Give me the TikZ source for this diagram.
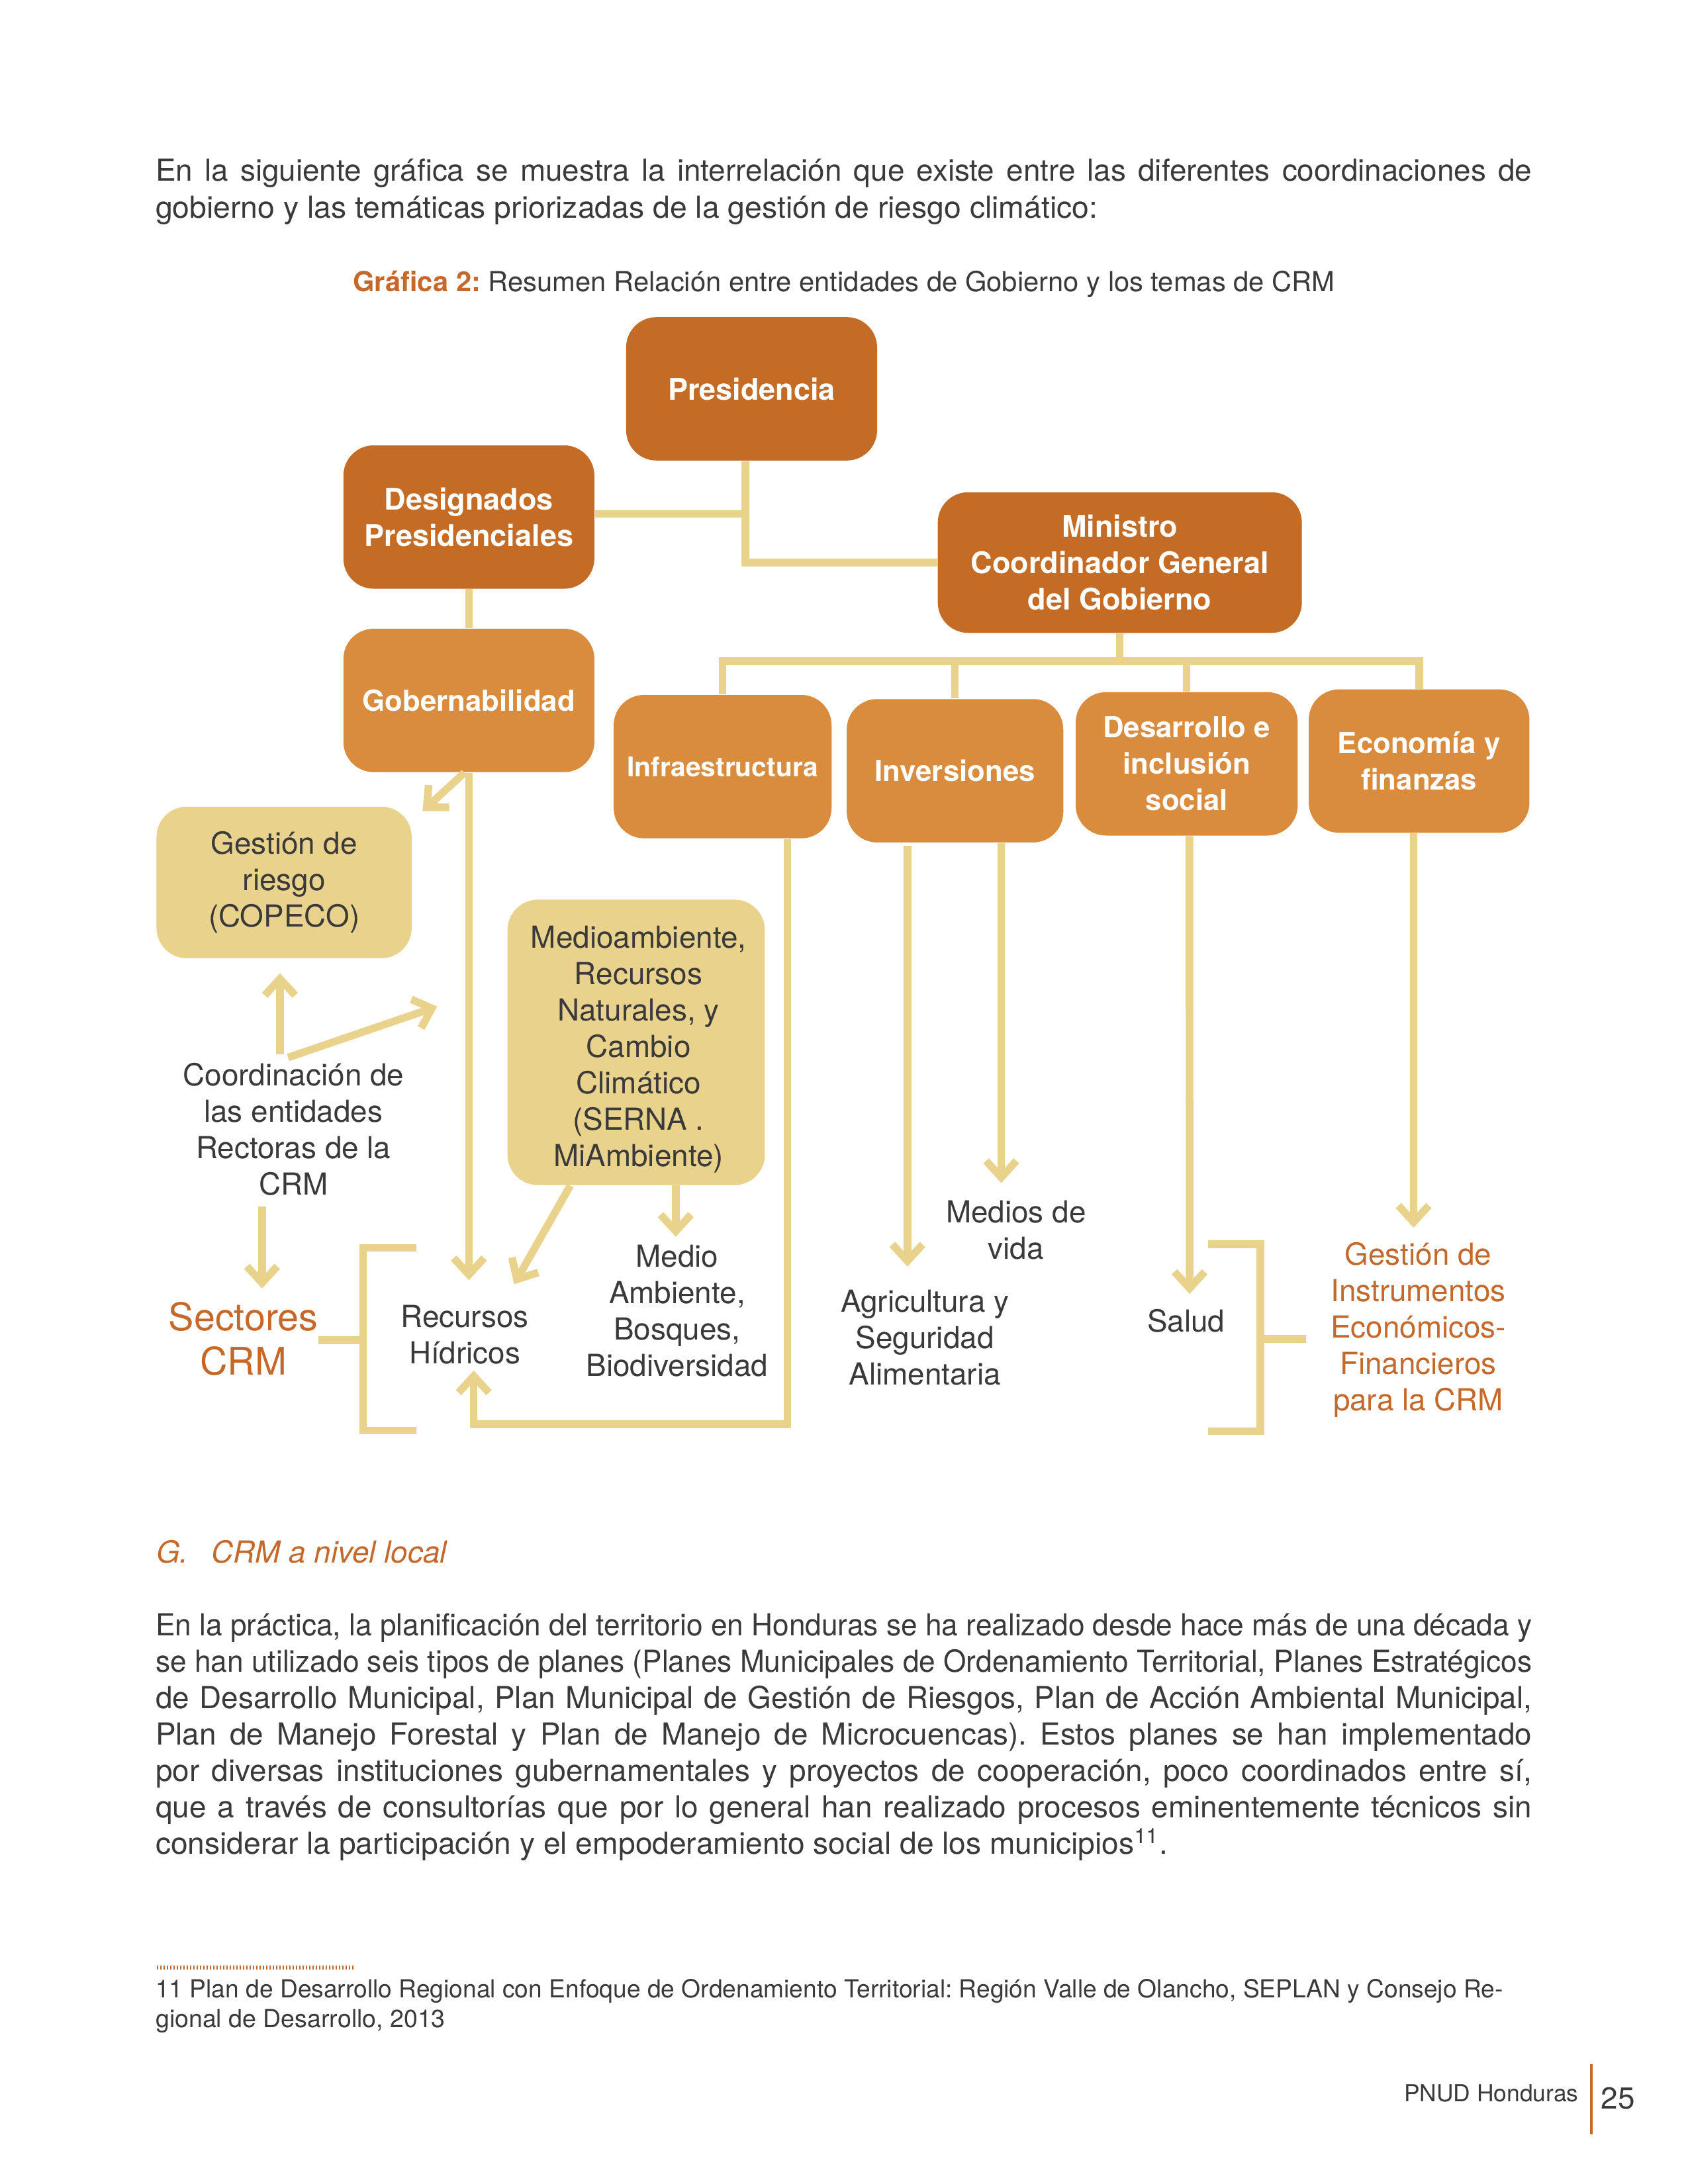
\documentclass[tikz,border=0pt]{standalone}
\usepackage{fontspec}
\setmainfont{TeX Gyre Heros}
\usepackage{graphicx}
\usetikzlibrary{arrows.meta}
\definecolor{darkor}{RGB}{196,108,38}
\definecolor{lightor}{RGB}{217,140,62}
\definecolor{gold}{RGB}{233,210,140}
\definecolor{txt}{RGB}{58,58,58}
\definecolor{ortxt}{RGB}{196,105,43}
\newsavebox\jbox
\newcommand\jline[1]{\sbox\jbox{#1}\ifdim\wd\jbox>499pt\relax\resizebox{499pt}{\height}{\usebox\jbox}\else\makebox[499pt][s]{#1}\fi}
\newcommand\fitto[2]{\resizebox{#1}{\height}{#2}}
\frenchspacing
\begin{document}
\frenchspacing
\begin{tikzpicture}[x=0.5pt,y=-0.5pt,
  conn/.style={draw=gold, line width=2.75pt, line join=miter},
  arr/.style={conn, -{Straight Barb[length=6pt,width=11pt]}},
  boxA/.style={rounded corners=11pt, fill=darkor, text=white, font=\bfseries\fontsize{10.8}{13.2}\selectfont, align=center, inner sep=0pt},
  boxB/.style={boxA, fill=lightor, font=\bfseries\fontsize{10.5}{13.2}\selectfont},
  boxC/.style={rounded corners=11pt, fill=gold, text=txt, align=center, inner sep=0pt, font=\fontsize{11}{13.2}\selectfont},
  lbl/.style={align=center, anchor=base, inner sep=0pt, text=txt, font=\fontsize{11}{13.2}\selectfont},
  olbl/.style={lbl, text=ortxt},
  body/.style={anchor=base west, inner sep=0pt, text=txt, font=\fontsize{11}{13.2}\selectfont}
]
\fill[white] (0,0) rectangle (1224,1584);
\useasboundingbox (0,0) rectangle (1224,1584);

% intro text
\node[body] (p1a) at (112.5,131.3) {\jline{En la siguiente gráfica se muestra la interrelación que existe entre las diferentes coordinaciones de}};
\node[body] (p1b) at (112.5,158.3) {\fitto{341.5pt}{gobierno y las temáticas priorizadas de la gestión de riesgo climático:}};
\node[body, font=\fontsize{10}{12}\selectfont] (cap) at (255.6,211.5) {\fitto{356pt}{\textcolor{ortxt}{\bfseries Gráfica 2:} Resumen Relación entre entidades de Gobierno y los temas de CRM}};

% boxes
\node[boxA, minimum width=91pt, minimum height=52pt] (pres) at (545,282) {Presidencia};
\node[boxA, minimum width=91pt, minimum height=52pt] (desig) at (340,375) {Designados\\Presidenciales};
\node[boxA, minimum width=132pt, minimum height=51pt] (min) at (812,408) {Ministro\\Coordinador General\\del Gobierno};
\node[boxB, minimum width=91pt, minimum height=52pt] (gob) at (340,508) {Gobernabilidad};
\node[boxB, minimum width=79pt, minimum height=52pt, font=\bfseries\fontsize{9.8}{12}\selectfont] (infra) at (524,556) {Infraestructura};
\node[boxB, minimum width=78.5pt, minimum height=52pt] (inv) at (692.5,559) {Inversiones};
\node[boxB, minimum width=80.5pt, minimum height=52pt] (des) at (860.5,554) {Desarrollo e\\inclusión\\social};
\node[boxB, minimum width=80pt, minimum height=52pt] (eco) at (1029,552) {Economía y\\finanzas};
\node[boxC, minimum width=92.5pt, minimum height=55pt] (cop) at (206,640) {Gestión de\\riesgo\\(COPECO)};
\node[boxC, minimum width=93.3pt, minimum height=103.5pt] (med) at (461.3,756) {};
\node[lbl] (medtxt) at (463,845.8) {Medioambiente,\\Recursos\\Naturales, y\\Cambio\\Climático\\(SERNA .\\MiAmbiente)};

% labels (anchored at the baseline of their last line)
\node[lbl] (coordtxt) at (212.8,866.7) {Coordinación de\\las entidades\\Rectoras de la\\CRM};
\node[olbl, font=\fontsize{13.8}{16}\selectfont] (sect) at (176.5,997) {Sectores\\CRM};
\node[lbl] (rh) at (337,989.1) {Recursos\\Hídricos};
\node[lbl] (mab) at (491,998.2) {Medio\\Ambiente,\\Bosques,\\Biodiversidad};
\node[lbl] (mv) at (736.7,913) {Medios de\\vida};
\node[lbl] (agr) at (670.6,1004.5) {Agricultura y\\Seguridad\\Alimentaria};
\node[lbl] (sal) at (860,966) {Salud};
\node[olbl] (gie) at (1028.4,1023.1) {Gestión de\\Instrumentos\\Económicos-\\Financieros\\para la CRM};

% hierarchy connectors
\draw[conn] ([xshift=-2.25pt]pres.south) |- (min.west);
\coordinate (pj) at (540.5,372.6);
\draw[conn] (desig.east |- pj) -- (pj);
\draw[conn] (desig.south) -- (gob.north);
\coordinate (bar) at (812,479.5);
\draw[conn] (min.south) -- (bar);
\draw[conn] (infra.north) |- (bar) -| (eco.north);
\draw[conn] (inv.north) -- (inv.north |- bar);
\draw[conn] (des.north) -- (des.north |- bar);

% arrows
\coordinate (t1) at (306.4,588.3);
\draw[arr] ([xshift=-1.6pt]gob.south) -- (t1);
\coordinate (t2) at (340,928.5);
\draw[arr] (gob.south) -- (t2);
\coordinate (t3) at (372.8,931.4);
\draw[arr] ([xshift=-23.9pt]med.south) -- (t3);
\coordinate (t4) at (490,897);
\draw[arr] ([xshift=14.35pt]med.south) -- (t4);
\coordinate (t5) at (343.5,994);
\coordinate (c5) at (343.5,1033);
\draw[arr] ([xshift=23.5pt]infra.south) |- (c5) -- (t5);
\coordinate (t6) at (658,918.6);
\draw[arr] ([xshift=-17.25pt,yshift=-1pt]inv.south) -- (t6);
\coordinate (t7) at (726,858);
\draw[arr] ([xshift=16.75pt]inv.south) -- (t7);
\coordinate (t8) at (862.6,938.4);
\draw[arr] ([xshift=1pt]des.south) -- (t8);
\coordinate (t9) at (1025,890.4);
\draw[arr] ([xshift=-2pt]eco.south) -- (t9);
\coordinate (s10) at (203,764.7);
\draw[arr] (s10) -- ([xshift=-1.5pt,yshift=-5.2pt]cop.south);
\coordinate (s11) at (208.8,767);
\coordinate (t11) at (317,730);
\draw[arr] (s11) -- (t11);
\coordinate (s12) at (190,875);
\coordinate (t12) at (190,934.5);
\draw[arr] (s12) -- (t12);

% brackets
\coordinate (lb1) at (302,905);
\coordinate (lb2) at (263.3,1037.6);
\draw[conn] (lb1) -| (lb2) -- (lb2 -| lb1);
\coordinate (ls) at (230.7,972);
\draw[conn] (ls) -- (ls -| lb2);
\coordinate (rb1) at (876,902.4);
\coordinate (rb2) at (914,1038);
\draw[conn] (rb1) -| (rb2) -- (rb2 -| rb1);
\coordinate (rs) at (947,971);
\draw[conn] (rs) -- (rs -| rb2);

% section G
\node[body, text=ortxt, font=\itshape\fontsize{11}{13.2}\selectfont] (hG) at (113,1133.7) {G.};
\node[body, text=ortxt, font=\itshape\fontsize{11}{13.2}\selectfont] (hC) at (153,1133.7) {CRM a nivel local};

\node[body] (q1) at (112.5,1186.3) {\jline{En la práctica, la planificación del territorio en Honduras se ha realizado desde hace más de una década y}};
\node[body] (q2) at (112.5,1212.7) {\jline{se han utilizado seis tipos de planes (Planes Municipales de Ordenamiento Territorial, Planes Estratégicos}};
\node[body] (q3) at (112.5,1239.1) {\jline{de Desarrollo Municipal, Plan Municipal de Gestión de Riesgos, Plan de Acción Ambiental Municipal,}};
\node[body] (q4) at (112.5,1265.6) {\jline{Plan de Manejo Forestal y Plan de Manejo de Microcuencas). Estos planes se han implementado}};
\node[body] (q5) at (112.5,1292) {\jline{por diversas instituciones gubernamentales y proyectos de cooperación, poco coordinados entre sí,}};
\node[body] (q6) at (112.5,1318.4) {\jline{que a través de consultorías que por lo general han realizado procesos eminentemente técnicos sin}};
\node[body] (q7) at (112.5,1344.9) {\fitto{367pt}{considerar la participación y el empoderamiento social de los municipios\textsuperscript{11}.}};

% footnote
\draw[ortxt, line width=1.3pt, dash pattern=on 0.6pt off 0.6pt] (113.6,1427) -- (256.6,1427);
\node[body, font=\fontsize{9}{10.8}\selectfont] (fn1) at (112.5,1448.8) {\fitto{488.5pt}{11 Plan de Desarrollo Regional con Enfoque de Ordenamiento Territorial: Región Valle de Olancho, SEPLAN y Consejo Re-}};
\node[body, font=\fontsize{9}{10.8}\selectfont] (fn2) at (112.5,1470.4) {gional de Desarrollo, 2013};

% footer
\node[body, anchor=base east, font=\fontsize{8.5}{10}\selectfont] (pnud) at (1145,1524) {PNUD Honduras};
\draw[ortxt, line width=0.9pt] (1154,1497) -- (1154,1548);
\node[body, font=\fontsize{11}{13}\selectfont] (pg) at (1160.6,1529.6) {25};
\end{tikzpicture}
\end{document}
